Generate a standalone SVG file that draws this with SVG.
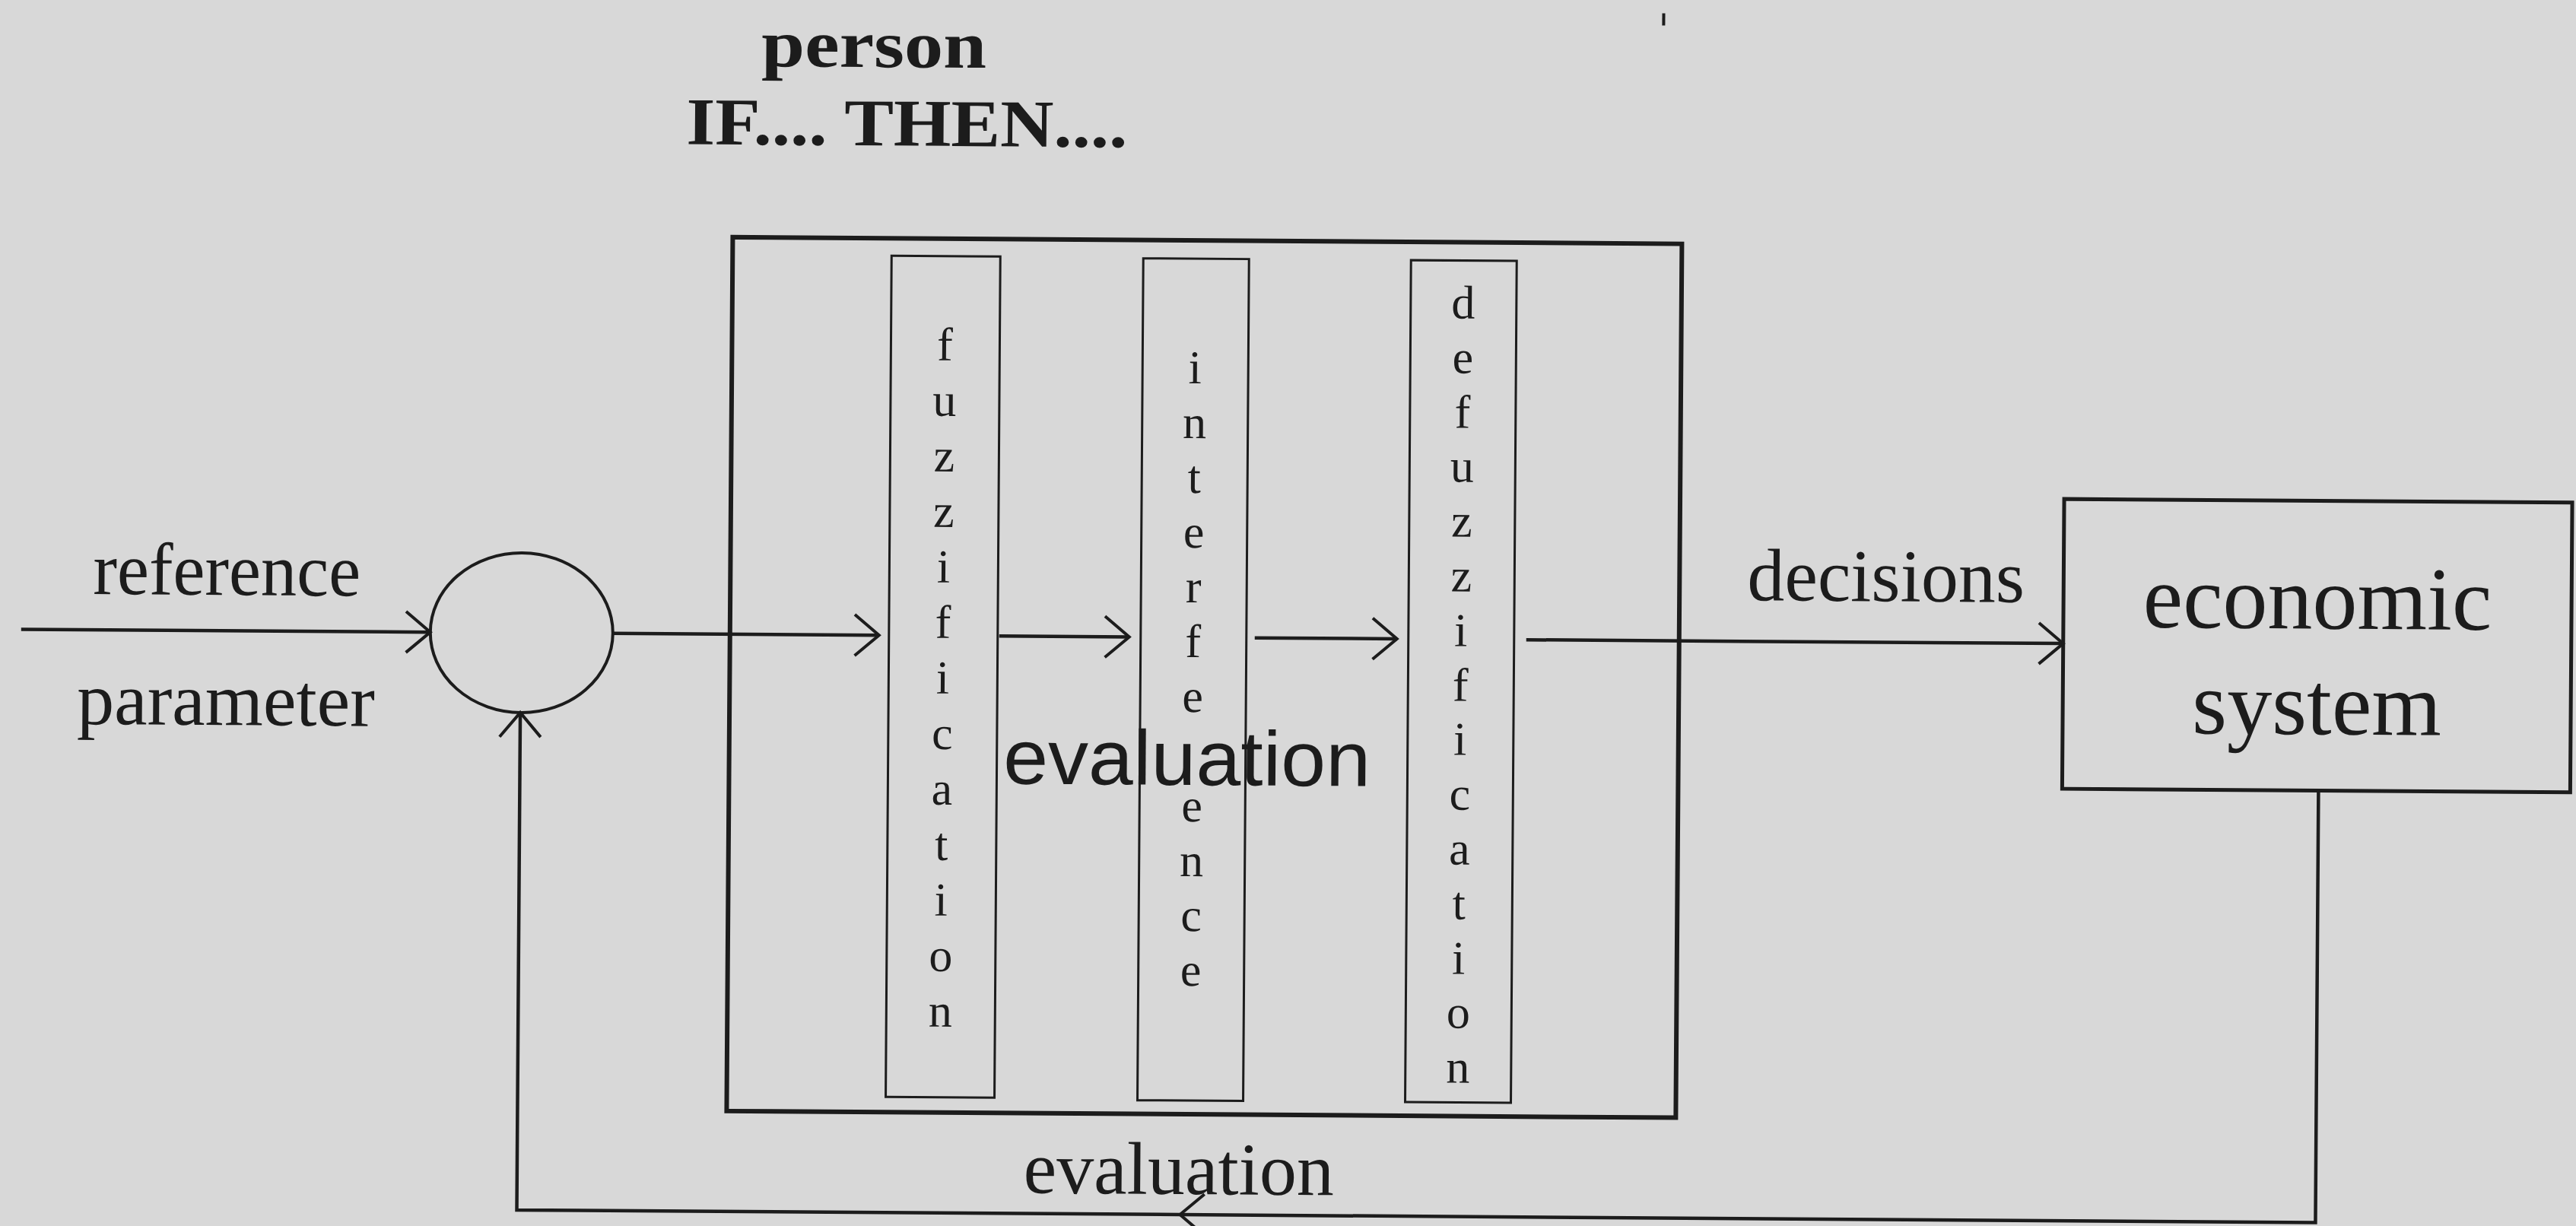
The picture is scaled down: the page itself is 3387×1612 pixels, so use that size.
<svg xmlns="http://www.w3.org/2000/svg" width="3387" height="1612" viewBox="0 0 3387 1612">
  <style>
    .ink { stroke: #1c1c1c; fill: none; }
    .frame { stroke-width: 6; }
    .stage { stroke-width: 3; }
    .wire { stroke-width: 4.5; }
    .serif { font-family: "Liberation Serif", "Times New Roman", serif; fill: #1c1c1c; }
    .bold { font-weight: bold; }
    .sans { font-family: "Liberation Sans", Arial, sans-serif; fill: #1c1c1c; }
    .col { font-size: 62px; text-anchor: middle; }
  </style>
  <defs>
    <marker id="arrow" viewBox="-40 -34 46 68" refX="0" refY="0" markerWidth="46" markerHeight="68" orient="auto" markerUnits="userSpaceOnUse">
      <path d="M-32,-27 L0,0 L-32,27" fill="none" stroke="#1c1c1c" stroke-width="4"/>
    </marker>
  </defs>

  <rect x="0" y="0" width="3387" height="1612" fill="#d8d8d8"/>

  <!-- whole page is slightly skewed, as printed -->
  <g transform="rotate(0.4 1693 806)">

    <!-- stray print mark above the figure -->
    <path class="ink" d="M2182,14 V30" stroke-width="4"/>

    <g id="person-label">
      <text class="serif bold" x="996" y="92" font-size="88" textLength="296" lengthAdjust="spacingAndGlyphs">person</text>
      <text class="serif bold" x="898" y="195" font-size="88" textLength="580" lengthAdjust="spacingAndGlyphs">IF.... THEN....</text>
    </g>

    <g id="comparator">
      <ellipse class="ink" cx="686" cy="839" rx="120" ry="105" stroke-width="4"/>
    </g>

    <g id="evaluation-block">
      <rect class="ink frame" x="960" y="317" width="1248" height="1149"/>
      <text class="sans" x="1562" y="1033" font-size="102" text-anchor="middle" textLength="483" lengthAdjust="spacingAndGlyphs">evaluation</text>
    </g>

    <g id="fuzzification">
      <rect class="ink stage" x="1169" y="340" width="143" height="1106"/>
      <text class="serif col">
        <tspan x="1240" y="477">f</tspan><tspan x="1240" y="550">u</tspan><tspan x="1240" y="623">z</tspan><tspan x="1240" y="696">z</tspan><tspan x="1240" y="769">i</tspan><tspan x="1240" y="842">f</tspan><tspan x="1240" y="915">i</tspan><tspan x="1240" y="988">c</tspan><tspan x="1240" y="1061">a</tspan><tspan x="1240" y="1134">t</tspan><tspan x="1240" y="1207">i</tspan><tspan x="1240" y="1280">o</tspan><tspan x="1240" y="1353">n</tspan>
      </text>
    </g>

    <g id="interference">
      <rect class="ink stage" x="1500" y="341" width="139" height="1107"/>
      <text class="serif col">
        <tspan x="1569" y="505">i</tspan><tspan x="1569" y="577">n</tspan><tspan x="1569" y="649">t</tspan><tspan x="1569" y="721">e</tspan><tspan x="1569" y="793">r</tspan><tspan x="1569" y="865">f</tspan><tspan x="1569" y="937">e</tspan><tspan x="1569" y="1081">e</tspan><tspan x="1569" y="1153">n</tspan><tspan x="1569" y="1225">c</tspan><tspan x="1569" y="1297">e</tspan>
      </text>
    </g>

    <g id="defuzzification">
      <rect class="ink stage" x="1852" y="341" width="139" height="1107"/>
      <text class="serif col">
        <tspan x="1921" y="417">d</tspan><tspan x="1921" y="489">e</tspan><tspan x="1921" y="561">f</tspan><tspan x="1921" y="632">u</tspan><tspan x="1921" y="704">z</tspan><tspan x="1921" y="776">z</tspan><tspan x="1921" y="848">i</tspan><tspan x="1921" y="920">f</tspan><tspan x="1921" y="991">i</tspan><tspan x="1921" y="1063">c</tspan><tspan x="1921" y="1135">a</tspan><tspan x="1921" y="1207">t</tspan><tspan x="1921" y="1279">i</tspan><tspan x="1921" y="1350">o</tspan><tspan x="1921" y="1422">n</tspan>
      </text>
    </g>

    <g id="economic-system">
      <rect class="ink" x="2713" y="649" width="668" height="381" stroke-width="5"/>
      <text class="serif" x="3047" y="817" font-size="118" text-anchor="middle">economic</text>
      <text class="serif" x="3047" y="956" font-size="118" text-anchor="middle">system</text>
    </g>

    <g id="connectors">
      <path class="ink wire" d="M28,839 H566" marker-end="url(#arrow)"/>
      <path class="ink wire" d="M806,839 H1156" marker-end="url(#arrow)"/>
      <path class="ink wire" d="M1314,839 H1485" marker-end="url(#arrow)"/>
      <path class="ink wire" d="M1650,839 H1837" marker-end="url(#arrow)"/>
      <path class="ink wire" d="M2007,839 H2713" marker-end="url(#arrow)"/>
      <path class="ink wire" d="M3050,1030 V1598 H1557" marker-end="url(#arrow)"/>
      <path class="ink wire" d="M1557,1598 H685 V944" marker-end="url(#arrow)"/>
    </g>

    <g id="connector-labels">
      <text class="serif" x="122" y="792" font-size="98" textLength="352" lengthAdjust="spacingAndGlyphs">reference</text>
      <text class="serif" x="102" y="963" font-size="98">parameter</text>
      <text class="serif" x="2297" y="785" font-size="98">decisions</text>
      <text class="serif" x="1555" y="1571" font-size="98" text-anchor="middle">evaluation</text>
    </g>
  </g>
</svg>
